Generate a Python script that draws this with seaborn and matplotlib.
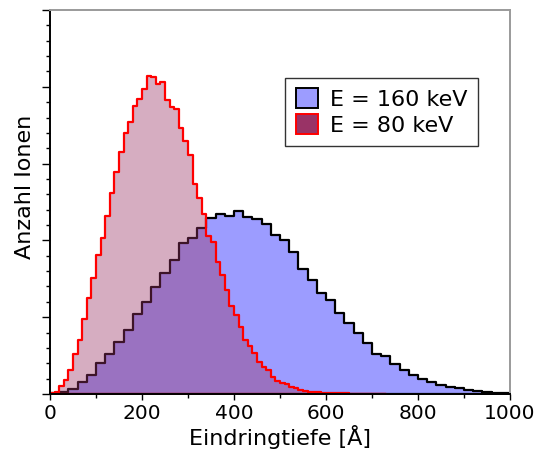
import numpy as np
import pandas as pd
import matplotlib
matplotlib.use("Agg")
import matplotlib.pyplot as plt
import seaborn as sns
from matplotlib.patches import Patch
from matplotlib.ticker import MultipleLocator, NullFormatter

# ---------------- data ----------------
labels = ["E = 160 keV", "E = 80 keV"]

# E = 160 keV : 20 Angstrom bins from 0 to 1000
bin_width_160 = 20
counts_160 = [0.7, 2.6, 6, 15, 25, 40, 52, 68, 83, 104,
              120, 139, 158, 175, 197, 203, 216, 229, 234, 232,
              238, 230, 228, 221, 207, 200, 185, 163, 148, 131,
              122, 105, 92, 80, 67, 52, 50, 39, 31, 25,
              20, 16, 12, 9.5, 7.8, 5.6, 4.2, 2.3, 1.7, 1.3]

# E = 80 keV : 10 Angstrom bins from 0 to 730
bin_width_80 = 10
counts_80 = [1, 3, 10, 18, 31, 52, 70, 98, 125, 151,
             181, 203, 232, 262, 289, 315, 340, 354, 375, 384,
             397, 414, 413, 404, 406, 383, 374, 371, 346, 329,
             311, 273, 255, 234, 206, 198, 172, 155, 135, 115,
             103, 87, 70, 62, 53, 42, 35, 31, 22, 17,
             14, 13, 9.5, 7.5, 5.2, 3.9, 3, 2.6, 2, 1.7,
             1.3, 1.3, 1, 0.9, 0.7, 0.6, 0.5, 0.4, 0.4, 0.3,
             0.3, 0.3, 0.2]

x_ticks = [0, 200, 400, 600, 800, 1000]

edges_160 = [i * bin_width_160 for i in range(len(counts_160) + 1)]
edges_80 = [i * bin_width_80 for i in range(len(counts_80) + 1)]
df160 = pd.DataFrame({"depth": [e + bin_width_160 / 2 for e in edges_160[:-1]],
                      "n": counts_160})
df80 = pd.DataFrame({"depth": [e + bin_width_80 / 2 for e in edges_80[:-1]],
                     "n": counts_80})

# ---------------- figure ----------------
W, H = 538, 459
fig = plt.figure(figsize=(W / 100, H / 100), dpi=100)
ax = fig.add_axes([50 / W, 1 - 394 / H, 460 / W, 384 / H])

blue_face = "#9c9cff"
red_face = "#993366"

sns.histplot(data=df160, x="depth", weights="n", bins=edges_160, element="step",
             fill=True, facecolor=blue_face, edgecolor="black", linewidth=1.6,
             ax=ax)
sns.histplot(data=df80, x="depth", weights="n", bins=edges_80, element="step",
             fill=True, facecolor=matplotlib.colors.to_rgba(red_face, 0.4),
             edgecolor="#ff0000", linewidth=1.6, ax=ax)

ax.set_xlim(0, 1000)
ax.set_ylim(0, 500)
ax.set_xticks(x_ticks)
ax.set_xticklabels([str(t) for t in x_ticks])
ax.xaxis.set_minor_locator(MultipleLocator(100))
ax.yaxis.set_major_locator(MultipleLocator(100))
ax.yaxis.set_minor_locator(MultipleLocator(20))
ax.yaxis.set_major_formatter(NullFormatter())

ax.tick_params(axis="x", which="major", direction="out", length=4.5, width=1.0,
               labelsize=14.5, pad=3)
ax.tick_params(axis="x", which="minor", direction="out", length=3, width=1.0)
ax.tick_params(axis="y", which="major", direction="out", length=5.5, width=1.0)
ax.tick_params(axis="y", which="minor", direction="out", length=3, width=1.0)

for s in ["left", "bottom"]:
    ax.spines[s].set_color("black")
    ax.spines[s].set_linewidth(1.4)
for s in ["top", "right"]:
    ax.spines[s].set_color("#9a9a9a")
    ax.spines[s].set_linewidth(1.4)

ax.set_xlabel("Eindringtiefe [Å]", fontsize=16, labelpad=1)
ax.set_ylabel("Anzahl Ionen", fontsize=16)
ax.yaxis.set_label_coords(-0.033, 0.54)

handles = [Patch(facecolor=blue_face, edgecolor="black", linewidth=1.4),
           Patch(facecolor=red_face, edgecolor="#ff0000", linewidth=1.4)]
leg = ax.legend(handles, labels, loc="upper right", bbox_to_anchor=(0.9304, 0.8229),
                borderaxespad=0, fontsize=16, handlelength=1.0, handleheight=1.0,
                handletextpad=0.55, labelspacing=0.18, borderpad=0.47,
                fancybox=False, framealpha=1)
leg.get_frame().set_edgecolor("#333333")
leg.get_frame().set_linewidth(1.0)

fig.savefig("out.png", dpi=100)
